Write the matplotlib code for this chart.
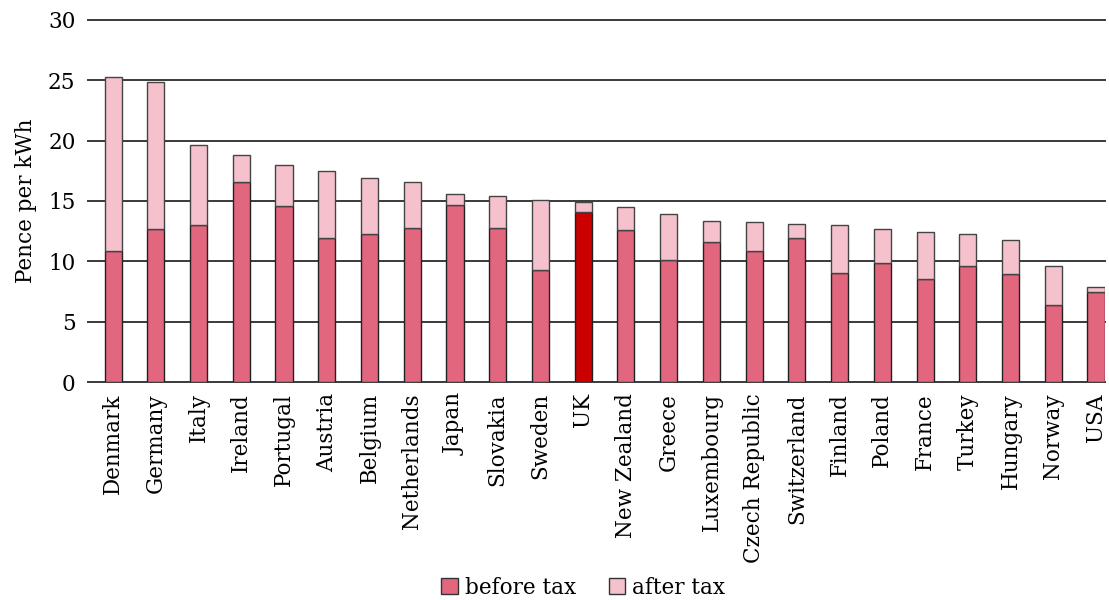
import matplotlib.pyplot as plt
from matplotlib.patches import Patch

# Prices in pence per kWh
countries = ['Denmark', 'Germany', 'Italy', 'Ireland', 'Portugal', 'Austria',
             'Belgium', 'Netherlands', 'Japan', 'Slovakia', 'Sweden', 'UK',
             'New Zealand', 'Greece', 'Luxembourg', 'Czech Republic',
             'Switzerland', 'Finland', 'Poland', 'France', 'Turkey', 'Hungary',
             'Norway', 'USA']
before_tax = [10.85, 12.7, 13.0, 16.6, 14.6, 11.95, 12.25, 12.75, 14.65, 12.8,
              9.3, 14.1, 12.6, 10.1, 11.6, 10.85, 11.9, 9.05, 9.85, 8.5, 9.65,
              8.97, 6.4, 7.47]
after_tax = [25.25, 24.9, 19.6, 18.8, 18.0, 17.5, 16.9, 16.6, 15.6, 15.4,
             15.1, 14.9, 14.5, 13.9, 13.35, 13.25, 13.1, 13.0, 12.7, 12.45,
             12.25, 11.75, 9.6, 7.85]

c_before = '#e3667f'
c_after = '#f5c1cc'
c_uk = '#cc0000'

plt.rcParams['font.family'] = ['DejaVu Serif']

fig = plt.figure(figsize=(11.09, 6), dpi=100)
ax = fig.add_axes([0.0794, 0.3633, 0.917, 0.6034])

x = list(range(len(countries)))
tax = [a - b for a, b in zip(after_tax, before_tax)]
cols = [c_uk if c == 'UK' else c_before for c in countries]

ax.bar(x, before_tax, width=0.4, color=cols, edgecolor='#222222', linewidth=1.0, zorder=3)
ax.bar(x, tax, width=0.4, bottom=before_tax, color=c_after, edgecolor='#444444',
       linewidth=1.0, zorder=3)

ax.set_ylim(0, 30)
ax.set_xlim(-0.585, 23.21)
ax.set_yticks(range(0, 31, 5))
ax.yaxis.grid(True, color='#3a3a3a', linewidth=1.4, zorder=0)
for gl in ax.get_ygridlines():
    gl.set_clip_on(False)
for s in ax.spines.values():
    s.set_visible(False)
ax.tick_params(axis='both', length=0, labelsize=15.5)
ax.tick_params(axis='y', pad=9)
ax.tick_params(axis='x', pad=8)
ax.set_xticks(x)
ax.set_xticklabels(countries, rotation=90)
ax.set_ylabel('Pence per kWh', fontsize=15.5, labelpad=8)

handles = [Patch(facecolor=c_before, edgecolor='#333333', label='before tax'),
           Patch(facecolor=c_after, edgecolor='#333333', label='after tax')]
fig.legend(handles=handles, loc='lower center', ncol=2, frameon=False,
           fontsize=15.5, bbox_to_anchor=(0.526, -0.03), handlelength=0.75,
           handleheight=0.75, handletextpad=0.35, columnspacing=1.5)

plt.savefig('out.png', dpi=100)
